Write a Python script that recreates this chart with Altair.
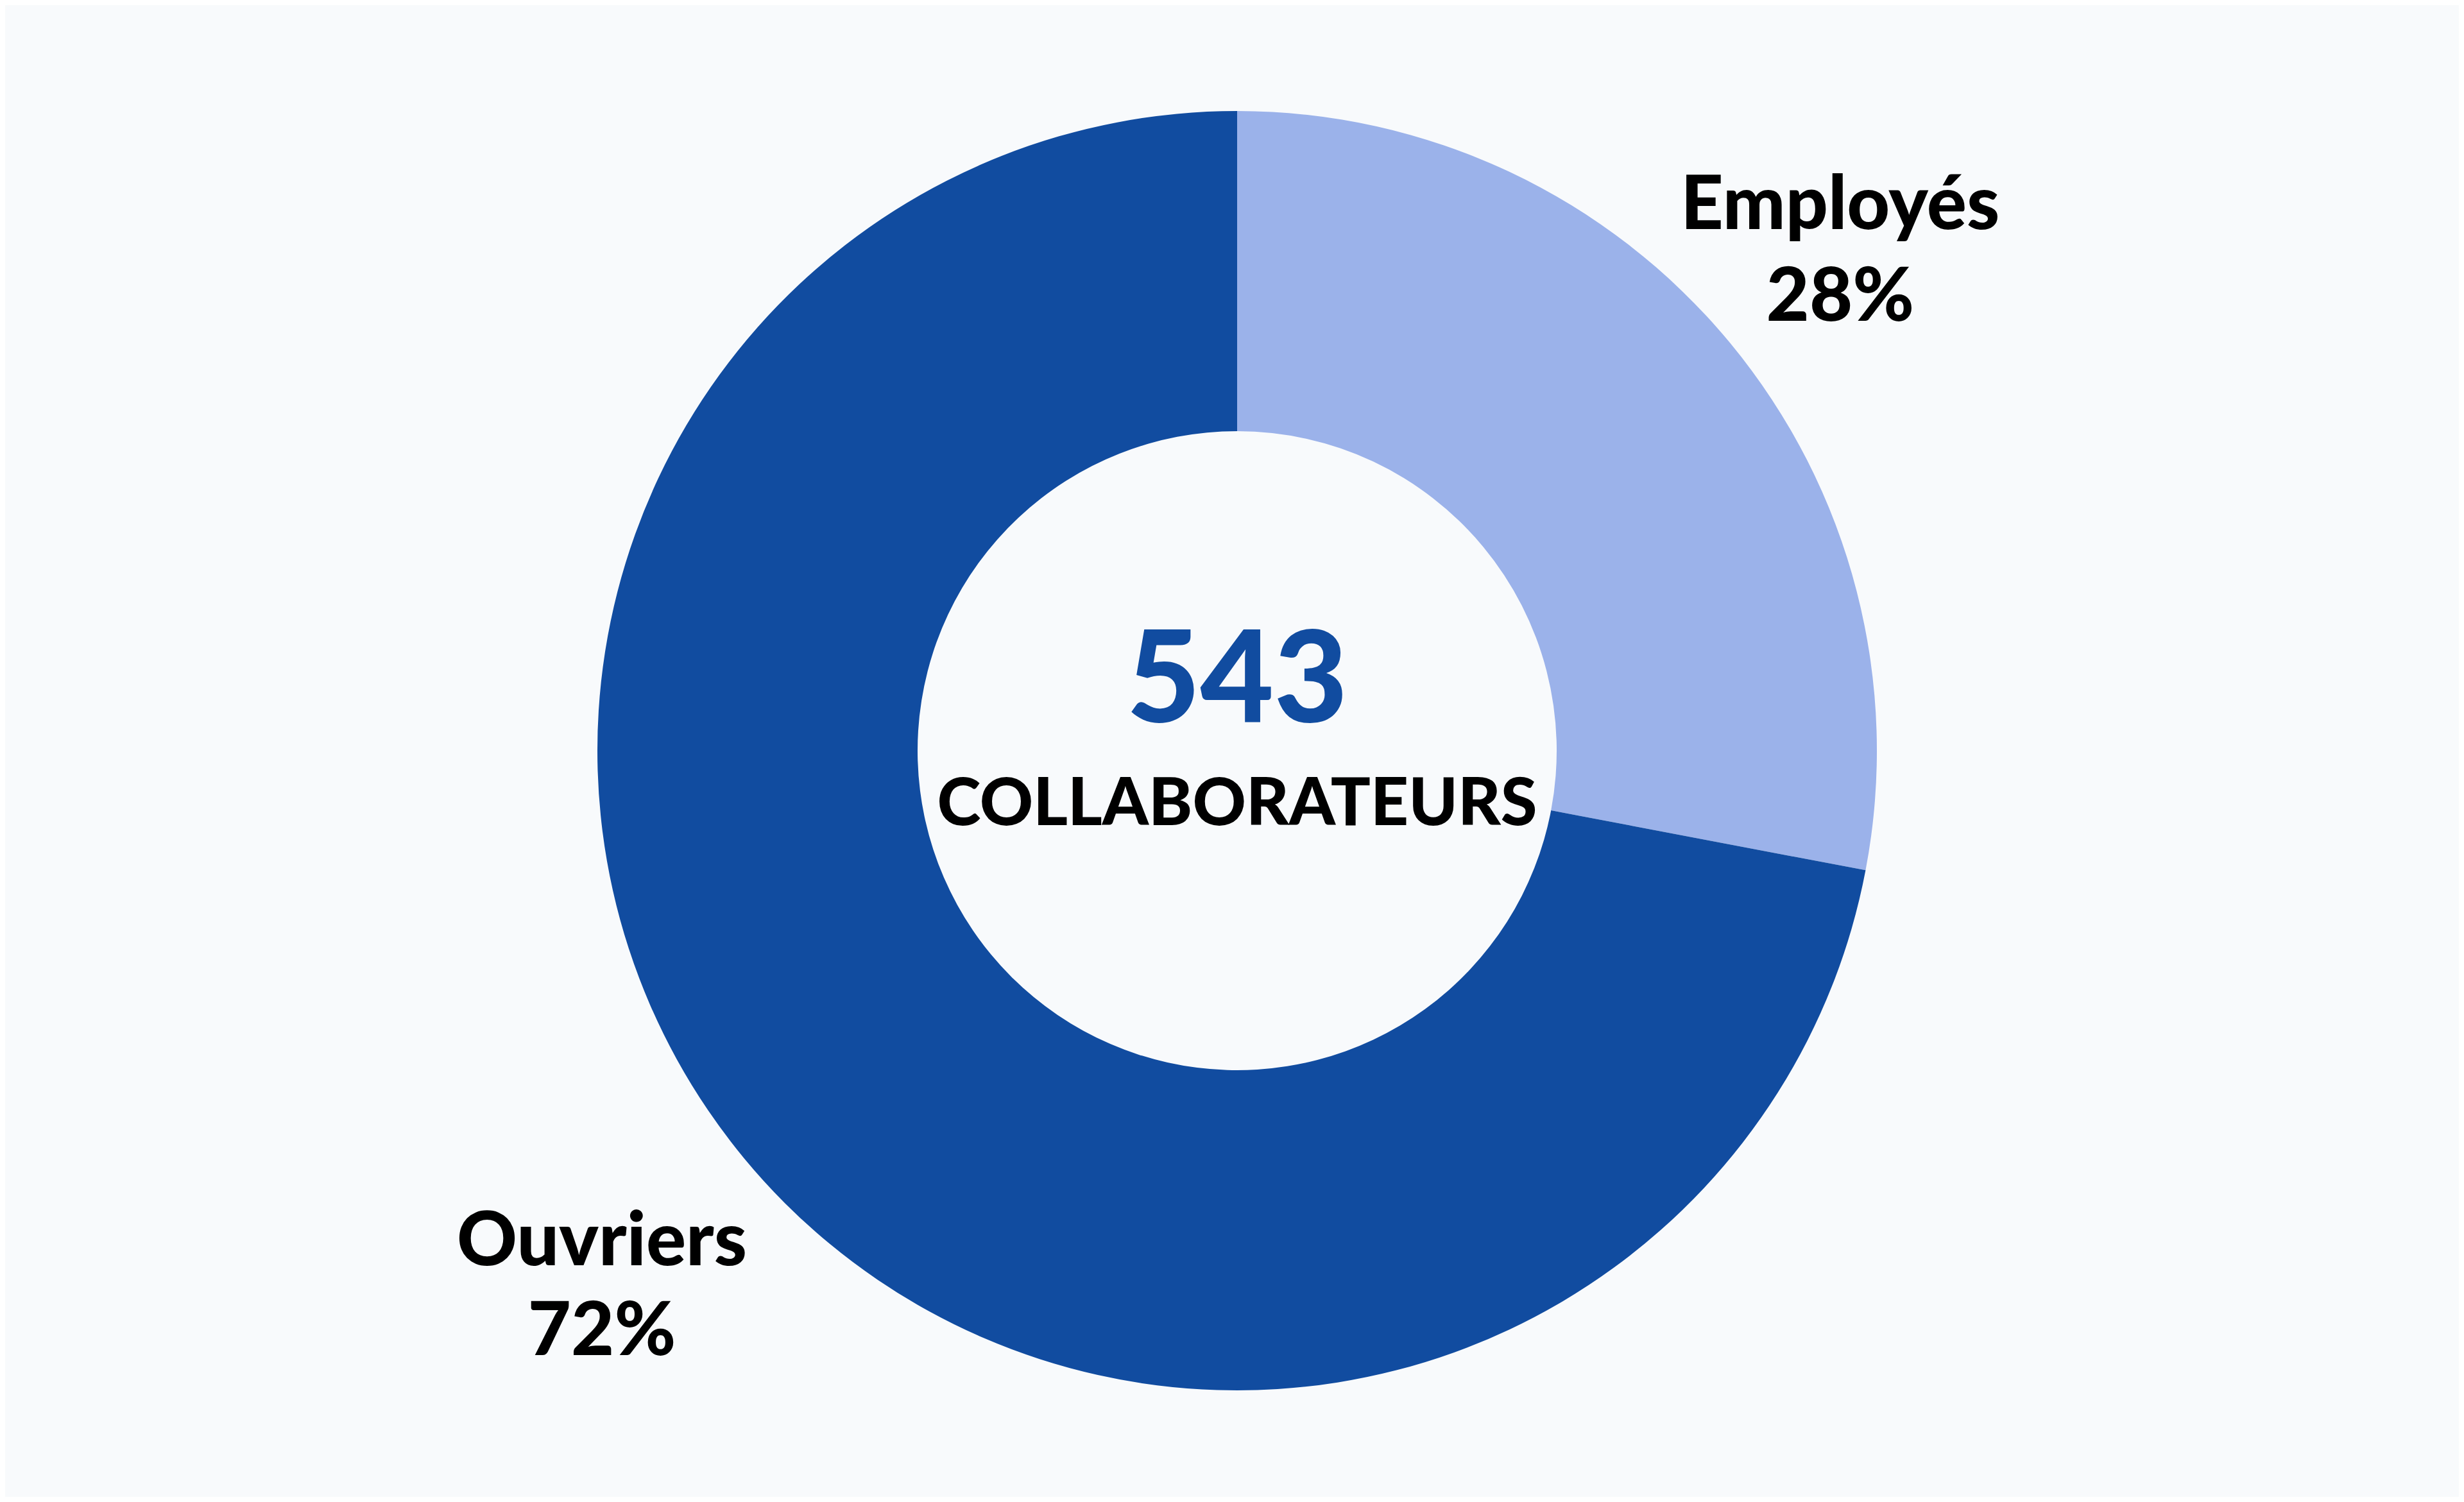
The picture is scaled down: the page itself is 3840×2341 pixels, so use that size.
import altair as alt
import pandas as pd

categories = ["Employés", "Ouvriers"]
counts = [152, 391]
percent_labels = ["28%", "72%"]
total_label = "543"
subtitle = "COLLABORATEURS"
colors = ["#9BB2EA", "#114CA0"]

df = pd.DataFrame({
    "categorie": categories,
    "effectif": counts,
    "pct": percent_labels,
    "ordre": [0, 1],
})

W, H = 3824, 2325
CX, CY = 1920, 1162
FONT = "Lato"

arcs = alt.Chart(df).mark_arc(innerRadius=498, outerRadius=997, stroke=None).encode(
    theta=alt.Theta("effectif:Q", stack=True),
    order=alt.Order("ordre:Q"),
    color=alt.Color("categorie:N",
                    scale=alt.Scale(domain=categories, range=colors),
                    legend=None),
    x=alt.value(CX), y=alt.value(CY),
)

lab_base = alt.Chart(df).transform_window(
    cum="sum(effectif)", sort=[alt.SortField("ordre")]
).transform_joinaggregate(
    total="sum(effectif)"
).transform_calculate(
    mid="(datum.cum - datum.effectif / 2) / datum.total",
    label="datum.categorie + '\\n' + datum.pct",
)

def label_layer(cat, radius, line_h, dy):
    return lab_base.transform_filter(
        alt.datum.categorie == cat
    ).mark_text(
        font=FONT, fontWeight=900, fontSize=116, color="#000000",
        lineBreak="\n", lineHeight=line_h, align="center", baseline="middle",
        dy=dy,
    ).encode(
        theta=alt.Theta("mid:Q", scale=alt.Scale(domain=[0, 1]), stack=None),
        text="label:N",
        radius=alt.value(radius),
        x=alt.value(CX), y=alt.value(CY),
    )

lab_emp = label_layer("Employés", 1220, 143, -70)
lab_ouv = label_layer("Ouvriers", 1285, 140, -52)

center_df = pd.DataFrame({"t": [total_label]})
center_num = alt.Chart(center_df).mark_text(
    font=FONT, fontWeight=900, fontSize=198, color="#114CA0",
    align="center", baseline="middle",
).encode(text="t:N", x=alt.value(CX), y=alt.value(CY - 104))

sub_df = pd.DataFrame({"t": [subtitle]})
center_sub = alt.Chart(sub_df).mark_text(
    font=FONT, fontWeight=900, fontSize=103, color="#000000",
    align="center", baseline="middle",
).encode(text="t:N", x=alt.value(CX), y=alt.value(CY + 85))

chart = alt.layer(arcs, lab_emp, lab_ouv, center_num, center_sub).resolve_scale(
    theta="independent"
).properties(
    width=W, height=H,
    background="#F8FAFC",
    padding=0,
    autosize=alt.AutoSizeParams(type="none"),
).configure_view(stroke=None)

chart.save("out.html", embed_options={"renderer": "svg", "actions": False})
